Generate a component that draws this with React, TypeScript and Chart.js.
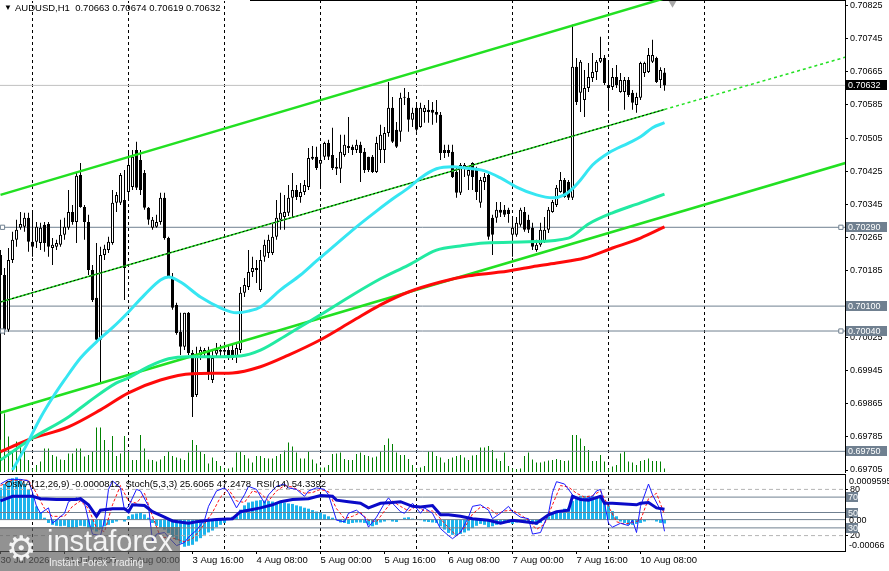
import React, { useEffect, useRef } from 'react';
import { Chart, registerables } from 'chart.js';

Chart.register(...registerables);

const FONT = '"Liberation Sans", Arial, Helvetica, sans-serif';

// ---------------- data ----------------
const symbolTitle = 'AUDUSD,H1';
// [open, high, low, close] per H1 bar, bar 0 = 30 Jul 16:00
const candles: number[][] = [
  [0.70223, 0.70235, 0.69778, 0.70175], [0.70175, 0.70192, 0.70031, 0.70043], [0.70043, 0.70240, 0.70038, 0.70211], [0.70211, 0.70279, 0.70204, 0.70260],
  [0.70260, 0.70308, 0.70243, 0.70284], [0.70289, 0.70327, 0.70284, 0.70298], [0.70291, 0.70325, 0.70279, 0.70313], [0.70313, 0.70325, 0.70231, 0.70255],
  [0.70255, 0.70327, 0.70219, 0.70243], [0.70255, 0.70303, 0.70240, 0.70291], [0.70252, 0.70301, 0.70235, 0.70289], [0.70296, 0.70303, 0.70231, 0.70252],
  [0.70298, 0.70303, 0.70219, 0.70243], [0.70240, 0.70264, 0.70199, 0.70248], [0.70243, 0.70260, 0.70235, 0.70252], [0.70248, 0.70308, 0.70243, 0.70272],
  [0.70272, 0.70313, 0.70260, 0.70291], [0.70289, 0.70380, 0.70284, 0.70327], [0.70327, 0.70344, 0.70296, 0.70303], [0.70303, 0.70423, 0.70252, 0.70414],
  [0.70416, 0.70445, 0.70337, 0.70339], [0.70339, 0.70344, 0.70260, 0.70303], [0.70303, 0.70320, 0.70175, 0.70187], [0.70187, 0.70199, 0.70110, 0.70115],
  [0.70120, 0.70252, 0.70014, 0.70019], [0.70019, 0.70243, 0.69915, 0.70223], [0.70223, 0.70248, 0.70211, 0.70238], [0.70235, 0.70267, 0.70228, 0.70255],
  [0.70252, 0.70380, 0.70248, 0.70349], [0.70349, 0.70375, 0.70327, 0.70368], [0.70349, 0.70421, 0.70344, 0.70416], [0.70356, 0.70428, 0.70115, 0.70192],
  [0.70375, 0.70476, 0.70356, 0.70440], [0.70387, 0.70476, 0.70380, 0.70460], [0.70476, 0.70496, 0.70380, 0.70385], [0.70452, 0.70476, 0.70368, 0.70380],
  [0.70421, 0.70428, 0.70332, 0.70337], [0.70337, 0.70339, 0.70296, 0.70308], [0.70289, 0.70315, 0.70284, 0.70308], [0.70291, 0.70320, 0.70289, 0.70303],
  [0.70303, 0.70373, 0.70296, 0.70361], [0.70361, 0.70373, 0.70260, 0.70264], [0.70264, 0.70267, 0.70168, 0.70170], [0.70170, 0.70180, 0.70091, 0.70096],
  [0.70103, 0.70108, 0.70031, 0.70035], [0.70038, 0.70084, 0.69982, 0.70002], [0.70002, 0.70084, 0.69994, 0.70084], [0.70084, 0.70086, 0.69982, 0.69987],
  [0.69987, 0.69994, 0.69833, 0.69881], [0.69886, 0.70002, 0.69881, 0.69982], [0.69982, 0.70002, 0.69970, 0.69994], [0.69987, 0.69999, 0.69978, 0.69994],
  [0.69990, 0.70002, 0.69922, 0.69941], [0.69922, 0.69994, 0.69915, 0.69975], [0.69985, 0.70011, 0.69975, 0.69994], [0.69994, 0.70007, 0.69978, 0.69990],
  [0.69990, 0.70002, 0.69978, 0.69994], [0.69994, 0.70007, 0.69970, 0.69982], [0.69994, 0.70007, 0.69970, 0.69975], [0.69978, 0.70011, 0.69963, 0.69999],
  [0.69994, 0.70146, 0.69987, 0.70132], [0.70132, 0.70168, 0.70122, 0.70151], [0.70146, 0.70235, 0.70139, 0.70182], [0.70182, 0.70219, 0.70170, 0.70192],
  [0.70192, 0.70211, 0.70156, 0.70187], [0.70139, 0.70235, 0.70134, 0.70211], [0.70219, 0.70260, 0.70207, 0.70248], [0.70228, 0.70272, 0.70216, 0.70260],
  [0.70228, 0.70301, 0.70223, 0.70267], [0.70267, 0.70356, 0.70260, 0.70313], [0.70308, 0.70373, 0.70284, 0.70325], [0.70315, 0.70368, 0.70284, 0.70327],
  [0.70325, 0.70392, 0.70317, 0.70361], [0.70361, 0.70421, 0.70315, 0.70380], [0.70380, 0.70392, 0.70356, 0.70363], [0.70363, 0.70397, 0.70349, 0.70375],
  [0.70375, 0.70404, 0.70368, 0.70392], [0.70387, 0.70481, 0.70380, 0.70457], [0.70455, 0.70486, 0.70452, 0.70460], [0.70460, 0.70484, 0.70428, 0.70433],
  [0.70443, 0.70489, 0.70385, 0.70452], [0.70460, 0.70496, 0.70452, 0.70493], [0.70493, 0.70501, 0.70452, 0.70460], [0.70464, 0.70530, 0.70428, 0.70433],
  [0.70436, 0.70457, 0.70416, 0.70431], [0.70431, 0.70513, 0.70397, 0.70472], [0.70464, 0.70513, 0.70460, 0.70489], [0.70481, 0.70556, 0.70469, 0.70486],
  [0.70484, 0.70489, 0.70464, 0.70476], [0.70476, 0.70501, 0.70469, 0.70489], [0.70489, 0.70496, 0.70399, 0.70469], [0.70472, 0.70481, 0.70421, 0.70428],
  [0.70460, 0.70460, 0.70423, 0.70428], [0.70460, 0.70464, 0.70421, 0.70423], [0.70423, 0.70508, 0.70421, 0.70493], [0.70476, 0.70537, 0.70445, 0.70513],
  [0.70476, 0.70532, 0.70445, 0.70517], [0.70517, 0.70640, 0.70508, 0.70578], [0.70578, 0.70604, 0.70493, 0.70496], [0.70525, 0.70544, 0.70481, 0.70484],
  [0.70520, 0.70614, 0.70496, 0.70602], [0.70602, 0.70626, 0.70585, 0.70604], [0.70602, 0.70616, 0.70520, 0.70549], [0.70549, 0.70578, 0.70532, 0.70566],
  [0.70578, 0.70590, 0.70520, 0.70525], [0.70532, 0.70590, 0.70530, 0.70578], [0.70568, 0.70585, 0.70542, 0.70578], [0.70573, 0.70597, 0.70542, 0.70568],
  [0.70573, 0.70592, 0.70537, 0.70566], [0.70568, 0.70597, 0.70542, 0.70561], [0.70561, 0.70568, 0.70452, 0.70469], [0.70476, 0.70489, 0.70457, 0.70469],
  [0.70476, 0.70489, 0.70460, 0.70469], [0.70472, 0.70489, 0.70409, 0.70411], [0.70423, 0.70436, 0.70361, 0.70373], [0.70373, 0.70445, 0.70368, 0.70440],
  [0.70433, 0.70445, 0.70411, 0.70440], [0.70414, 0.70436, 0.70380, 0.70428], [0.70445, 0.70447, 0.70380, 0.70411], [0.70428, 0.70436, 0.70356, 0.70375],
  [0.70349, 0.70411, 0.70337, 0.70404], [0.70399, 0.70421, 0.70380, 0.70411], [0.70416, 0.70421, 0.70260, 0.70267], [0.70313, 0.70320, 0.70223, 0.70272],
  [0.70313, 0.70351, 0.70301, 0.70332], [0.70332, 0.70351, 0.70315, 0.70325], [0.70332, 0.70344, 0.70315, 0.70320], [0.70332, 0.70337, 0.70301, 0.70322],
  [0.70272, 0.70315, 0.70219, 0.70289], [0.70272, 0.70315, 0.70267, 0.70301], [0.70296, 0.70337, 0.70291, 0.70332], [0.70327, 0.70339, 0.70279, 0.70284],
  [0.70308, 0.70320, 0.70276, 0.70284], [0.70289, 0.70301, 0.70235, 0.70243], [0.70235, 0.70260, 0.70231, 0.70248], [0.70248, 0.70301, 0.70243, 0.70284],
  [0.70255, 0.70315, 0.70252, 0.70284], [0.70284, 0.70339, 0.70276, 0.70332], [0.70327, 0.70356, 0.70325, 0.70351], [0.70344, 0.70392, 0.70339, 0.70385],
  [0.70375, 0.70423, 0.70373, 0.70404], [0.70404, 0.70409, 0.70361, 0.70363], [0.70399, 0.70404, 0.70356, 0.70361], [0.70361, 0.70778, 0.70356, 0.70677],
  [0.70677, 0.70698, 0.70585, 0.70592], [0.70614, 0.70693, 0.70568, 0.70689], [0.70597, 0.70669, 0.70556, 0.70626], [0.70626, 0.70686, 0.70616, 0.70652],
  [0.70650, 0.70710, 0.70640, 0.70664], [0.70664, 0.70693, 0.70645, 0.70689], [0.70689, 0.70749, 0.70686, 0.70698], [0.70698, 0.70705, 0.70633, 0.70638],
  [0.70633, 0.70686, 0.70573, 0.70626], [0.70628, 0.70674, 0.70621, 0.70652], [0.70652, 0.70681, 0.70626, 0.70633], [0.70616, 0.70662, 0.70614, 0.70645],
  [0.70616, 0.70652, 0.70573, 0.70645], [0.70645, 0.70652, 0.70604, 0.70609], [0.70614, 0.70621, 0.70573, 0.70590], [0.70585, 0.70614, 0.70566, 0.70604],
  [0.70602, 0.70689, 0.70597, 0.70686], [0.70662, 0.70689, 0.70652, 0.70686], [0.70664, 0.70722, 0.70662, 0.70705], [0.70689, 0.70742, 0.70686, 0.70705],
  [0.70698, 0.70701, 0.70638, 0.70640], [0.70645, 0.70676, 0.70626, 0.70669], [0.70663, 0.70674, 0.70619, 0.70632],
];

const volumes = [
  2600, 2930, 1770, 1020, 1520, 1270, 1020, 600, 180, 350,
  520, 1180, 1180, 850, 770, 630, 600, 930, 930, 1180,
  1180, 770, 850, 1020, 2220, 2220, 1600, 1100, 1800, 800,
  930, 1800, 1020, 600, 600, 1850, 1180, 630, 600, 520,
  630, 800, 1020, 800, 730, 670, 600, 970, 1600, 1350,
  1020, 900, 430, 730, 550, 300, 180, 180, 230, 970,
  1020, 850, 680, 470, 800, 800, 700, 680, 680, 800,
  900, 1070, 1470, 1270, 970, 680, 680, 1020, 630, 430,
  230, 230, 350, 900, 930, 970, 650, 600, 600, 900,
  970, 850, 800, 720, 770, 1020, 1350, 1680, 1400, 970,
  850, 850, 650, 350, 180, 230, 300, 1020, 1020, 800,
  720, 470, 650, 720, 800, 850, 720, 600, 820, 850,
  1230, 1230, 1300, 1100, 680, 550, 970, 300, 180, 150,
  170, 800, 970, 630, 470, 470, 520, 570, 600, 650,
  600, 550, 570, 1850, 1850, 1680, 1300, 1100, 550, 550,
  850, 520, 180, 270, 350, 930, 1020, 520, 470, 350,
  550, 600, 680, 550, 550, 520, 180,
];

// moving averages: [bar, price]
const maFast = [
  [3, 0.69705], [6, 0.69756], [10, 0.69831], [13, 0.69879], [16, 0.69922], [20, 0.69975], [24, 0.70014], [28, 0.70048],
  [32, 0.70086], [36, 0.70127], [40, 0.70163], [42, 0.70170], [45, 0.70158], [50, 0.70122], [55, 0.70096], [59, 0.70084],
  [62, 0.70088], [65, 0.70098], [70, 0.70139], [75, 0.70175], [79, 0.70209], [84, 0.70250], [89, 0.70291], [94, 0.70329],
  [98, 0.70358], [102, 0.70385], [105, 0.70409], [109, 0.70431], [113, 0.70436], [116, 0.70433], [121, 0.70426], [125, 0.70409],
  [129, 0.70387], [134, 0.70368], [138, 0.70361], [141, 0.70368], [143, 0.70383], [145, 0.70404], [148, 0.70440], [152, 0.70469],
  [157, 0.70493], [160, 0.70508], [163, 0.70530], [166, 0.70542],
];
const maMid = [
  [0, 0.69729], [8, 0.69782], [17, 0.69833], [22, 0.69869], [29, 0.69915], [32, 0.69927], [37, 0.69954], [42, 0.69973],
  [47, 0.69978], [53, 0.69978], [60, 0.69980], [65, 0.69994], [72, 0.70033], [80, 0.70079], [88, 0.70127], [95, 0.70166],
  [102, 0.70199], [109, 0.70235], [115, 0.70245], [121, 0.70252], [132, 0.70255], [142, 0.70264], [147, 0.70298], [153, 0.70325],
  [160, 0.70349], [166, 0.70370],
];
const maSlow = [
  [0, 0.69749], [7, 0.69778], [17, 0.69809], [25, 0.69850], [32, 0.69891], [40, 0.69922], [48, 0.69937], [58, 0.69939],
  [65, 0.69954], [72, 0.69982], [80, 0.70019], [88, 0.70064], [95, 0.70103], [102, 0.70134], [110, 0.70158], [117, 0.70173],
  [125, 0.70182], [133, 0.70195], [139, 0.70204], [146, 0.70216], [153, 0.70240], [160, 0.70264], [166, 0.70291],
];

// channel trend lines: [bar, price]
const channelUpper = [[0, 0.70368], [211.25, 0.70971]];
const channelMiddle = [[0, 0.70110], [166, 0.70574]];
const channelMiddleExt = [[166, 0.70574], [211.25, 0.70700]];
const channelLower = [[0, 0.69843], [211.25, 0.70445]];

const bidPrice = 0.70632;
const levelPrices = [0.70290, 0.70100, 0.70040, 0.69750];
const markedLevels = [0.70290, 0.70040];
const shiftMarker = [[168, 0.70830]];
const priceTicks = [0.70825, 0.70745, 0.70665, 0.70585, 0.70505, 0.70425, 0.70345, 0.70265, 0.70185, 0.70105, 0.70025, 0.69945, 0.69865, 0.69785, 0.69705];

const separatorBars = [8, 32, 56, 80, 104, 128, 152, 176];
const timeTickBars = [0, 16, 32, 48, 64, 80, 96, 112, 128, 144, 160];
const timeTickLabels = ['30 Jul 2026', '31 Jul 08:00', '3 Aug 00:00', '3 Aug 16:00', '4 Aug 08:00', '5 Aug 00:00', '5 Aug 16:00', '6 Aug 08:00', '7 Aug 00:00', '7 Aug 16:00', '10 Aug 08:00'];

// OsMA(12,26,9) histogram per bar
const osma = [
  0.00067, 0.00075, 0.00082, 0.00087, 0.00089, 0.00085, 0.00075, 0.00064, 0.00050, 0.00028,
  0.00014, 0.00004, -0.00007, -0.00011, -0.00013, -0.00014, -0.00013, -0.00016, -0.00018, -0.00016,
  -0.00013, -0.00014, -0.00018, -0.00021, -0.00025, -0.00020, -0.00014, -0.00011, -0.00007, -0.00004,
  0.00000, -0.00004, 0.00007, 0.00011, 0.00013, 0.00014, 0.00011, 0.00004, -0.00007, -0.00013,
  -0.00016, -0.00021, -0.00028, -0.00036, -0.00043, -0.00050, -0.00057, -0.00055, -0.00053, -0.00046,
  -0.00039, -0.00032, -0.00027, -0.00023, -0.00016, -0.00011, -0.00007, 0.00001, 0.00006, 0.00007,
  0.00021, 0.00030, 0.00036, 0.00038, 0.00040, 0.00041, 0.00040, 0.00039, 0.00038, 0.00037,
  0.00036, 0.00036, 0.00034, 0.00033, 0.00030, 0.00028, 0.00025, 0.00023, 0.00020, 0.00017,
  0.00014, 0.00011, 0.00007, 0.00004, -0.00001, -0.00006, -0.00007, -0.00009, -0.00007, -0.00006,
  -0.00006, -0.00007, -0.00011, -0.00014, -0.00011, -0.00006, -0.00004, -0.00001, -0.00004, -0.00005,
  0.00001, 0.00004, 0.00005, 0.00002, 0.00000, -0.00001, -0.00004, -0.00005, -0.00006, -0.00007,
  -0.00014, -0.00021, -0.00028, -0.00032, -0.00034, -0.00030, -0.00027, -0.00023, -0.00018, -0.00013,
  -0.00009, -0.00011, -0.00016, -0.00014, -0.00011, -0.00009, -0.00007, -0.00007, -0.00009, -0.00006,
  -0.00004, -0.00005, -0.00006, -0.00009, -0.00011, -0.00007, -0.00001, 0.00007, 0.00013, 0.00018,
  0.00020, 0.00023, 0.00025, 0.00039, 0.00046, 0.00050, 0.00050, 0.00050, 0.00049, 0.00048,
  0.00046, 0.00039, 0.00030, 0.00018, 0.00007, -0.00004, -0.00007, -0.00011, -0.00011, -0.00009,
  -0.00007, -0.00004, -0.00001, -0.00001, -0.00004, -0.00007, -0.0000812,
];
const osmaMax = 0.0009595;
const osmaMin = -0.00066;

// Stochastic(5,3,3) and RSI(14): [bar, value]
const stochMain = [
  [0, 87], [2, 93], [5, 93], [7, 91], [8, 76], [9, 58], [10, 49], [12, 56], [13, 36], [16, 49], [17, 64], [19, 69], [21, 62],
  [22, 40], [23, 22], [25, 20], [26, 40], [27, 80], [28, 91], [30, 82], [31, 53], [32, 58], [34, 80], [35, 78], [37, 58],
  [38, 13], [39, 22], [41, 24], [42, 18], [44, 7], [46, 11], [47, 18], [49, 27], [51, 40], [52, 58], [54, 78], [56, 82],
  [57, 76], [59, 56], [61, 73], [62, 84], [64, 80], [66, 62], [67, 73], [69, 84], [71, 87], [72, 82], [74, 80], [76, 71],
  [77, 78], [79, 82], [81, 80], [82, 73], [84, 40], [86, 38], [87, 49], [89, 53], [91, 44], [92, 31], [94, 44], [96, 62],
  [97, 69], [98, 62], [100, 51], [101, 49], [103, 62], [105, 49], [106, 56], [108, 49], [110, 29], [112, 20], [113, 16],
  [115, 24], [117, 44], [118, 58], [120, 60], [122, 53], [123, 42], [125, 49], [127, 58], [128, 51], [130, 44], [132, 42],
  [133, 22], [135, 24], [137, 49], [138, 76], [139, 90], [141, 87], [143, 73], [144, 69], [146, 67], [148, 71], [149, 78],
  [150, 80], [151, 62], [152, 36], [153, 31], [155, 36], [157, 33], [158, 40], [159, 24], [160, 58], [162, 87], [163, 73],
  [165, 53], [166, 25.6065],
];
const stochSignal = [
  [0, 85], [3, 92], [7, 92], [9, 75], [11, 55], [13, 45], [16, 45], [18, 58], [20, 65], [22, 55], [24, 30], [26, 25],
  [28, 60], [30, 85], [32, 65], [34, 62], [36, 75], [38, 45], [40, 18], [43, 17], [46, 12], [48, 16], [50, 28], [53, 50],
  [55, 70], [57, 80], [59, 65], [61, 63], [63, 78], [65, 75], [67, 65], [69, 78], [71, 85], [73, 83], [76, 75], [78, 76],
  [80, 80], [82, 77], [84, 55], [86, 42], [88, 45], [90, 50], [92, 40], [94, 38], [96, 52], [98, 65], [100, 58], [102, 52],
  [104, 58], [106, 52], [108, 52], [110, 42], [112, 30], [114, 20], [116, 30], [118, 48], [120, 57], [122, 56], [124, 48],
  [126, 52], [128, 53], [130, 47], [132, 40], [134, 28], [136, 35], [138, 60], [140, 85], [142, 83], [144, 75], [146, 70],
  [148, 72], [150, 78], [152, 58], [154, 38], [156, 35], [158, 37], [160, 40], [162, 68], [164, 75], [166, 47.2478],
];
const rsi = [
  [0, 65], [2, 69], [3, 71], [5, 71], [8, 71], [10, 68], [14, 67], [19, 67], [20, 68], [22, 60], [24, 45], [25, 53],
  [28, 55], [31, 55], [32, 51], [33, 60], [36, 59], [38, 51], [41, 44], [43, 39], [47, 36], [49, 38], [52, 40], [54, 41],
  [58, 42], [60, 51], [62, 53], [65, 56], [68, 60], [70, 64], [73, 67], [77, 68], [80, 72], [83, 71], [84, 66], [87, 64],
  [90, 62], [92, 56], [95, 62], [98, 63], [100, 64], [103, 58], [105, 57], [108, 59], [110, 47], [112, 47], [115, 45],
  [118, 42], [122, 40], [125, 36], [128, 40], [131, 38], [134, 36], [137, 47], [139, 51], [142, 53], [143, 71], [145, 67],
  [147, 66], [150, 71], [151, 62], [153, 62], [156, 61], [159, 60], [160, 62], [162, 63], [164, 56], [166, 54.3392],
];
const stochLevels = [80, 20];
const rsiLevels = [70, 50, 30];

// ---------------- layout constants ----------------
const X_MIN = -0.125;
const X_MAX = 211.125;
const P_MAX = 0.708378;
const P_MIN = 0.696978;
const SLATE = '#708090';

const pts = (arr: number[][]) => arr.map(([x, y]) => ({ x, y }));
const flat = (v: number) => [{ x: X_MIN - 2, y: v }, { x: X_MAX + 2, y: v }];

const tagPlugin = {
  id: 'tags',
  afterDraw(chart: any, _args: any, opts: any) {
    const { ctx, chartArea } = chart;
    ctx.save();
    ctx.font = `9px ${FONT}`;
    ctx.textBaseline = 'middle';
    ctx.textAlign = 'left';
    for (const t of opts.items || []) {
      const scale = chart.scales[t.axis];
      const y = Math.round(scale.getPixelForValue(t.value)) + (t.dy || 0);
      if (t.bg) {
        ctx.fillStyle = t.bg;
        ctx.fillRect(chartArea.right + 1, y - 5, t.w, 10);
      }
      ctx.fillStyle = t.color;
      ctx.fillText(t.text, chartArea.right + (t.bg ? 3 : 4), y + 0.5);
    }
    ctx.restore();
  },
};

const sepAxis = (height: number) => ({
  type: 'linear', min: X_MIN, max: X_MAX, offset: false, position: 'bottom',
  afterBuildTicks: (s: any) => { s.ticks = separatorBars.map((v) => ({ value: v })); },
  afterFit: (s: any) => { s.height = height; },
  ticks: { display: false },
  grid: { display: true, drawOnChartArea: true, drawTicks: false, color: '#000', lineWidth: 1, offset: false },
  border: { display: true, color: '#000', width: 1, dash: [3, 3] },
});

const topAxis = () => ({
  type: 'linear', min: X_MIN, max: X_MAX, offset: false, position: 'top',
  afterFit: (s: any) => { s.height = 0; },
  ticks: { display: false }, grid: { display: false },
  border: { display: true, color: '#000', width: 1 },
});

function mainConfig(): any {
  const wicks = candles.map((c, j) => ({ x: j, y: [c[2], c[1]] }));
  const bodies = candles.map((c, j) => ({ x: j, y: [Math.min(c[0], c[3]), Math.max(c[0], c[3])] }));
  const bodyColors = candles.map((c) => (c[3] >= c[0] ? '#ffffff' : '#000000'));
  const datasets: any[] = [
    {
      type: 'bar', label: 'volume', data: volumes.map((v, j) => ({ x: j, y: v })), yAxisID: 'yVol',
      backgroundColor: '#008000', barThickness: 1, grouped: false, inflateAmount: 0, borderWidth: 0, order: 100,
    },
    { type: 'line', data: flat(bidPrice), borderColor: '#c0c0c0', borderWidth: 1, pointRadius: 0, order: 95 },
    ...levelPrices.map((v) => ({ type: 'line', data: flat(v), borderColor: SLATE, borderWidth: 1, pointRadius: 0, order: 94 })),
    {
      type: 'bar', label: 'wicks', data: wicks, backgroundColor: '#000', barThickness: 1, grouped: false,
      inflateAmount: 0, borderWidth: 0, minBarLength: 1, order: 80,
    },
    {
      type: 'bar', label: 'bodies', data: bodies, backgroundColor: bodyColors, borderColor: '#000', borderWidth: 1,
      borderSkipped: false, barThickness: 3, grouped: false, inflateAmount: 0, minBarLength: 1, order: 70,
    },
    { type: 'line', data: pts(channelLower), borderColor: '#22e022', borderWidth: 2.5, pointRadius: 0, order: 45 },
    { type: 'line', data: pts(channelUpper), borderColor: '#22e022', borderWidth: 2.5, pointRadius: 0, order: 45 },
    { type: 'line', data: pts(channelMiddle), borderColor: '#22e022', borderWidth: 1.5, pointRadius: 0, order: 44 },
    { type: 'line', data: pts(channelMiddle), borderColor: '#000', borderWidth: 1, borderDash: [2, 2], pointRadius: 0, order: 43 },
    { type: 'line', data: pts(channelMiddleExt), borderColor: '#22e022', borderWidth: 1.5, borderDash: [3, 3], pointRadius: 0, order: 43 },
    { type: 'line', data: pts(maSlow), borderColor: '#ff0a0a', borderWidth: 3, pointRadius: 0, cubicInterpolationMode: 'monotone', order: 32 },
    { type: 'line', data: pts(maMid), borderColor: '#22eaa2', borderWidth: 3, pointRadius: 0, cubicInterpolationMode: 'monotone', order: 31 },
    { type: 'line', data: pts(maFast), borderColor: '#36e6f2', borderWidth: 3, pointRadius: 0, cubicInterpolationMode: 'monotone', order: 30 },
    ...markedLevels.map((v) => ({
      type: 'line', showLine: false, data: [{ x: 0.5, y: v }, { x: 210.1, y: v }], pointStyle: 'rect', pointRadius: 3,
      pointBackgroundColor: '#fff', pointBorderColor: SLATE, pointBorderWidth: 1, order: 10, clip: false,
    })),
    {
      type: 'line', showLine: false, data: pts(shiftMarker), pointStyle: 'triangle', rotation: 180, pointRadius: 4.5,
      pointBackgroundColor: '#a8a8a8', pointBorderColor: '#a8a8a8', pointBorderWidth: 0, order: 9,
    },
  ];
  datasets.forEach((d) => { d.xAxisID = 'x'; if (!d.yAxisID) d.yAxisID = 'y'; });
  return {
    type: 'bar',
    data: { datasets },
    plugins: [tagPlugin],
    options: {
      responsive: false, animation: false, devicePixelRatio: 1, events: [],
      layout: { padding: 0, autoPadding: false },
      plugins: {
        legend: { display: false }, tooltip: { enabled: false },
        tags: {
          items: [
            ...levelPrices.map((v) => ({ axis: 'y', value: v, text: v.toFixed(5), bg: SLATE, color: '#fff', w: 41 })),
            { axis: 'y', value: bidPrice, text: bidPrice.toFixed(5), bg: '#000', color: '#fff', w: 41 },
          ],
        },
      },
      scales: {
        x: sepAxis(0),
        xTop: topAxis(),
        y: {
          type: 'linear', position: 'right', min: P_MIN, max: P_MAX, bounds: 'data',
          afterBuildTicks: (s: any) => { s.ticks = priceTicks.map((v) => ({ value: v })); },
          afterFit: (s: any) => { s.width = 44; s.paddingTop = 0; s.paddingBottom = 0; },
          ticks: { color: '#000', font: { family: FONT, size: 9 }, padding: 2, autoSkip: false, callback: (v: any) => Number(v).toFixed(5) },
          grid: { drawOnChartArea: false, drawTicks: true, tickLength: 3, color: '#000' },
          border: { display: true, color: '#000', width: 1 },
        },
        yVol: { type: 'linear', display: false, min: -50, max: 23600 },
      },
    },
  };
}

function indConfig(): any {
  const datasets: any[] = [
    {
      type: 'bar', data: osma.map((v, j) => ({ x: j, y: v })), yAxisID: 'yMacd', backgroundColor: '#1eb4ec',
      barThickness: 3, grouped: false, inflateAmount: 0, borderWidth: 0, order: 100,
    },
    ...stochLevels.map((v) => ({ type: 'line', data: flat(v), yAxisID: 'yOsc', borderColor: '#b4b4b4', borderWidth: 1, borderDash: [4, 3], pointRadius: 0, order: 90 })),
    ...rsiLevels.map((v) => ({ type: 'line', data: flat(v), yAxisID: 'yOsc', borderColor: SLATE, borderWidth: 1, pointRadius: 0, order: 89 })),
    { type: 'line', data: flat(0), yAxisID: 'yMacd', borderColor: SLATE, borderWidth: 1, pointRadius: 0, order: 88 },
    { type: 'line', data: pts(stochSignal), yAxisID: 'yOsc', borderColor: '#ff1010', borderWidth: 1, borderDash: [3, 2], pointRadius: 0, order: 30 },
    { type: 'line', data: pts(stochMain), yAxisID: 'yOsc', borderColor: '#1a1aff', borderWidth: 1, pointRadius: 0, order: 20 },
    { type: 'line', data: pts(rsi), yAxisID: 'yOsc', borderColor: '#0a0ac8', borderWidth: 3, pointRadius: 0, order: 10 },
  ];
  datasets.forEach((d) => { d.xAxisID = 'x'; });
  return {
    type: 'bar',
    data: { datasets },
    plugins: [tagPlugin],
    options: {
      responsive: false, animation: false, devicePixelRatio: 1, events: [],
      layout: { padding: 0, autoPadding: false },
      plugins: {
        legend: { display: false }, tooltip: { enabled: false },
        tags: {
          items: [
            ...rsiLevels.map((v) => ({ axis: 'yOsc', value: v, text: String(v), bg: SLATE, color: '#fff', w: 12 })),
            { axis: 'yMacd', value: osmaMax, text: String(osmaMax), color: '#000', dy: 7 },
            { axis: 'yMacd', value: 0, text: (0).toFixed(2), color: '#000' },
            { axis: 'yMacd', value: osmaMin, text: String(osmaMin), color: '#000', dy: -6 },
          ],
        },
      },
      scales: {
        x: {
          type: 'linear', min: X_MIN, max: X_MAX, offset: false, position: 'bottom',
          afterBuildTicks: (s: any) => { s.ticks = timeTickBars.map((v) => ({ value: v })); },
          afterFit: (s: any) => { s.height = 20; s.paddingLeft = 0; s.paddingRight = 0; },
          ticks: {
            display: true, autoSkip: false, maxRotation: 0, minRotation: 0, align: 'start', padding: 1,
            color: '#000', font: { family: FONT, size: 9.5 },
            callback: (v: any) => { const i = timeTickBars.indexOf(Number(v)); return i >= 0 ? timeTickLabels[i] : ''; },
          },
          grid: { display: true, drawOnChartArea: false, drawTicks: true, tickLength: 3, color: '#000', offset: false },
          border: { display: true, color: '#000', width: 1 },
        },
        xSep: { ...sepAxis(0), border: { display: false, dash: [3, 3] } },
        xTop: topAxis(),
        yOsc: {
          type: 'linear', position: 'right', min: 0, max: 100, bounds: 'data',
          afterBuildTicks: (s: any) => { s.ticks = stochLevels.map((v) => ({ value: v })); },
          afterFit: (s: any) => { s.width = 44; s.paddingTop = 0; s.paddingBottom = 0; },
          ticks: { color: '#000', font: { family: FONT, size: 9 }, padding: 2, autoSkip: false, callback: (v: any) => String(v) },
          grid: { drawOnChartArea: false, drawTicks: true, tickLength: 3, color: '#000' },
          border: { display: true, color: '#000', width: 1 },
        },
        yMacd: { type: 'linear', display: false, min: osmaMin, max: osmaMax },
      },
    },
  };
}

export default function App() {
  const mainRef = useRef<HTMLCanvasElement>(null);
  const indRef = useRef<HTMLCanvasElement>(null);

  useEffect(() => {
    Chart.defaults.font.family = FONT;
    const main = new Chart(mainRef.current as HTMLCanvasElement, mainConfig());
    const ind = new Chart(indRef.current as HTMLCanvasElement, indConfig());
    return () => { main.destroy(); ind.destroy(); };
  }, []);

  const last = candles[candles.length - 1];
  const headerText = `${symbolTitle}  ${last.map((v) => v.toFixed(5)).join(' ')}`;
  const indText = `OsMA(12,26,9) ${osma[osma.length - 1].toFixed(7)}  Stoch(5,3,3) ${stochMain[stochMain.length - 1][1].toFixed(4)} ${stochSignal[stochSignal.length - 1][1].toFixed(4)}  RSI(14) ${rsi[rsi.length - 1][1].toFixed(4)}`;

  return (
    <div style={{ position: 'absolute', left: 0, top: 0, width: 889, height: 571, background: '#fff', overflow: 'hidden', fontFamily: FONT }}>
      <canvas ref={mainRef} width={889} height={473} style={{ position: 'absolute', left: 0, top: 0 }} />
      <canvas ref={indRef} width={889} height={97} style={{ position: 'absolute', left: 0, top: 474 }} />
      <div style={{ position: 'absolute', left: 0, top: 0, width: 250, height: 1, background: '#fff' }} />
      <div style={{ position: 'absolute', left: 4, top: 3, fontSize: 8, lineHeight: '9px', color: '#000' }}>▼</div>
      <div style={{ position: 'absolute', left: 15, top: 2, fontSize: 9.5, lineHeight: '11px', color: '#000', whiteSpace: 'pre' }}>{headerText}</div>
      <div style={{ position: 'absolute', left: 5, top: 478, fontSize: 9.5, lineHeight: '11px', color: '#000', whiteSpace: 'pre' }}>{indText}</div>
      <div style={{ position: 'absolute', left: 0, top: 527, width: 180, height: 44, background: 'rgba(95,95,95,0.68)' }}>
        <div style={{ position: 'absolute', left: 6, top: 0, fontFamily: '"DejaVu Sans", sans-serif', fontSize: 34, lineHeight: '42px', color: '#f4f4f4' }}>⚙</div>
        <div style={{ position: 'absolute', left: 47, top: 0, fontSize: 29, lineHeight: '29px', color: '#f4f4f4', whiteSpace: 'pre' }}>instaforex</div>
        <div style={{ position: 'absolute', left: 49, top: 30, fontSize: 10, lineHeight: '11px', color: '#eeeeee', whiteSpace: 'pre' }}>Instant Forex Trading</div>
      </div>
    </div>
  );
}
